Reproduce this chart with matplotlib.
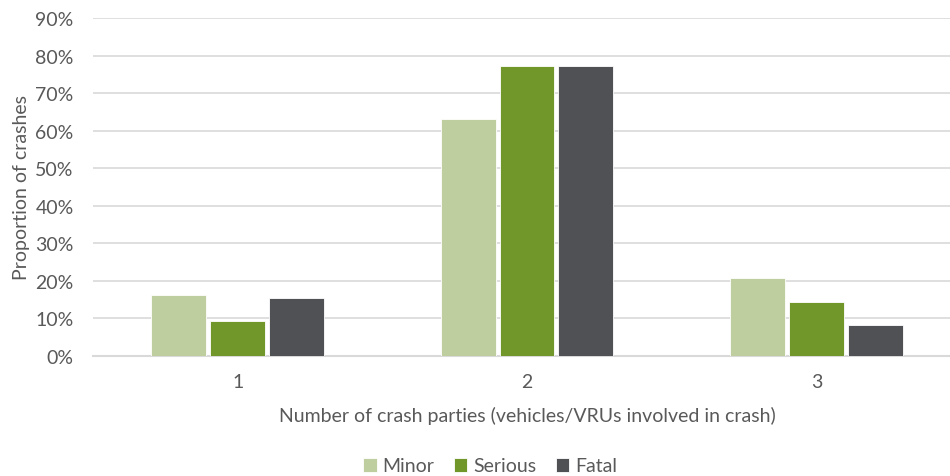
import matplotlib.pyplot as plt
import numpy as np

plt.rcParams['font.family'] = ['Lato', 'DejaVu Sans']

# crash parties per crash, share of crashes by severity (%)
categories = ['1', '2', '3']
minor = [16.3, 63.0, 20.8]
serious = [9.3, 77.1, 14.4]
fatal = [15.4, 77.1, 8.3]

series = [('Minor', minor, '#BFCE9E'),
          ('Serious', serious, '#71962A'),
          ('Fatal', fatal, '#505155')]

text_col = '#595959'
fs = 14

fig = plt.figure(figsize=(9.5, 4.77), dpi=100)
ax = fig.add_axes([93/950, 120/477, 868/950, 338/477])

x = np.arange(len(categories))
w = 0.19
step = 0.203
for i, (name, vals, col) in enumerate(series):
    ax.bar(x + (i - 1) * step, vals, width=w, color=col, label=name,
           edgecolor='white', linewidth=0.6, zorder=3)

ax.set_xlim(-0.5, 2.5)
ax.set_ylim(0, 90)
ax.set_yticks(range(0, 91, 10))
ax.set_yticklabels([f'{v}%' for v in range(0, 91, 10)])
ax.set_xticks(x)
ax.set_xticklabels(categories)
ax.yaxis.grid(True, color='#D9D9D9', linewidth=1.2, zorder=0)
for s in ['top', 'right', 'left']:
    ax.spines[s].set_visible(False)
ax.spines['bottom'].set_color('#D9D9D9')
ax.spines['bottom'].set_linewidth(1.5)
ax.tick_params(axis='both', length=0, labelsize=fs, labelcolor=text_col)
ax.tick_params(axis='y', pad=14)
ax.tick_params(axis='x', pad=12)

ax.set_ylabel('Proportion of crashes', fontsize=fs, color=text_col, labelpad=4)
ax.set_xlabel('Number of crash parties (vehicles/VRUs involved in crash)',
              fontsize=fs, color=text_col, labelpad=12)

fig.legend(loc='center', bbox_to_anchor=(490/950, 1 - 467/477), ncol=3,
           frameon=False, fontsize=fs, labelcolor=text_col,
           handlelength=0.7, handleheight=0.7, handletextpad=0.3,
           columnspacing=1.0)

fig.savefig('out.png', dpi=100)
